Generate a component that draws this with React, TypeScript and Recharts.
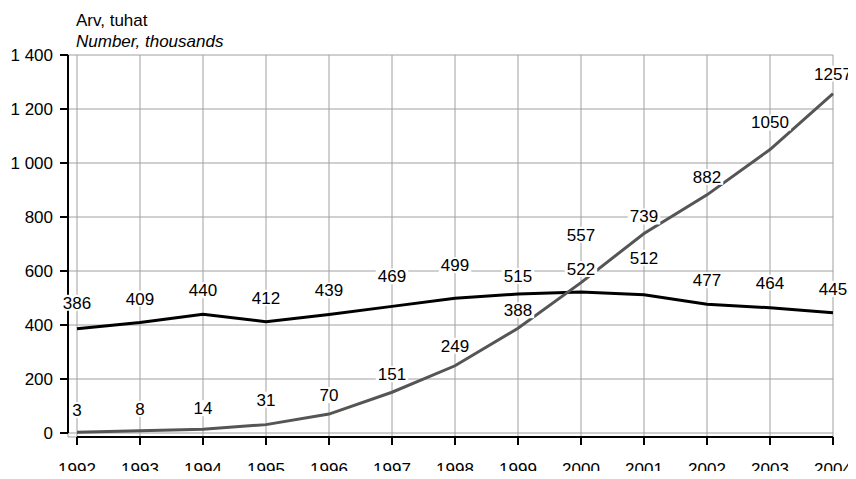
import React from "react";
import { LineChart, Line, XAxis, YAxis, CartesianGrid, LabelList } from "recharts";

const years = ["1992", "1993", "1994", "1995", "1996", "1997", "1998", "1999", "2000", "2001", "2002", "2003", "2004"];
const blackSeries = [386, 409, 440, 412, 439, 469, 499, 515, 522, 512, 477, 464, 445];
const graySeries = [3, 8, 14, 31, 70, 151, 249, 388, 557, 739, 882, 1050, 1257];
const yTicks = [0, 200, 400, 600, 800, 1000, 1200, 1400];

// how far above the point each value label sits (px)
const blackLift = [26, 24, 24, 24, 24, 30, 33, 18, 23, 37, 24, 25, 24];
const grayLift = [22, 22, 21, 25, 19, 18, 20, 18, 48, 17, 18, 27, 20];

const data = years.map((year, i) => ({ year, black: blackSeries[i], gray: graySeries[i] }));

const FONT = "'Liberation Sans', Arial, sans-serif";
const PAD_L = 9;
const PAD_B = 4;

const fmt = (v: number) => String(v).replace(/\B(?=(\d{3})+(?!\d))/g, " ");

const makeLabel = (lift: number[]) => (props: any) => {
  const { x, y, value, index } = props;
  const cy = y - lift[index];
  const w = String(value).length * 9.5 + 4;
  return (
    <g>
      <rect x={x - w / 2} y={cy - 8} width={w} height={16} fill="#fff" />
      <text x={x} y={cy} dy="0.35em" textAnchor="middle" fontSize={17} fontFamily={FONT} fill="#000">
        {value}
      </text>
    </g>
  );
};

// chart is 848x471 at the body's (8, 8); the wrapper is kept 463 tall so the
// page never gets a scrollbar (body margin 8 + 463 + 8 = 479)
export default function App() {
  return (
    <div style={{ position: "relative", width: 848, height: 463, fontFamily: FONT }}>
      <LineChart width={848} height={471} data={data} margin={{ top: 47, right: 23, left: 0, bottom: 0 }}>
        <CartesianGrid stroke="#a0a0a0" strokeWidth={1} />
        <XAxis
          dataKey="year"
          height={42}
          padding={{ left: PAD_L, right: 0 }}
          tickSize={8}
          tickMargin={18}
          interval={0}
          axisLine={{ stroke: "#000", strokeWidth: 2, strokeDasharray: `0 ${PAD_L} 2000` }}
          tickLine={{ stroke: "#000", strokeWidth: 2 }}
          tick={{ fill: "#000", fontSize: 17 }}
        />
        <YAxis
          width={60}
          domain={[0, 1400]}
          ticks={yTicks}
          padding={{ top: 0, bottom: PAD_B }}
          tickFormatter={fmt}
          tickSize={8}
          tickMargin={7}
          axisLine={{ stroke: "#000", strokeWidth: 2, strokeDasharray: "378 2000" }}
          tickLine={{ stroke: "#000", strokeWidth: 2 }}
          tick={{ fill: "#000", fontSize: 17 }}
        />
        <Line dataKey="black" stroke="#000" strokeWidth={3} dot={false} isAnimationActive={false}>
          <LabelList dataKey="black" content={makeLabel(blackLift)} />
        </Line>
        <Line dataKey="gray" stroke="#555" strokeWidth={3} dot={false} isAnimationActive={false}>
          <LabelList dataKey="gray" content={makeLabel(grayLift)} />
        </Line>
      </LineChart>
      <div style={{ position: "absolute", left: 68, top: 4, fontSize: 17, lineHeight: "17px" }}>Arv, tuhat</div>
      <div style={{ position: "absolute", left: 68, top: 25, fontSize: 17, lineHeight: "17px", fontStyle: "italic" }}>
        Number, thousands
      </div>
    </div>
  );
}
